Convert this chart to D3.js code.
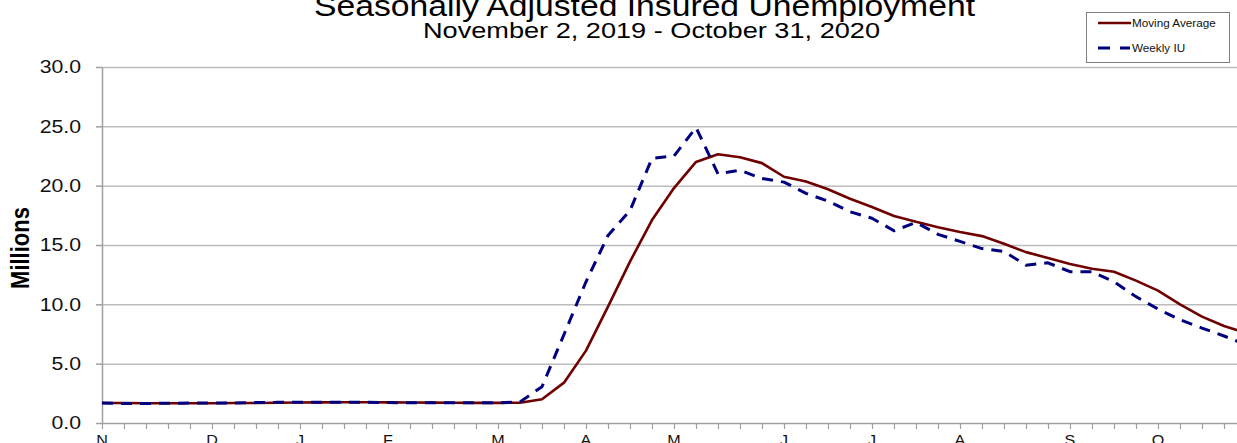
<!DOCTYPE html>
<html>
<head>
<meta charset="utf-8">
<script src="https://cdn.jsdelivr.net/npm/d3@7/dist/d3.min.js"></script>
<style>
  html, body { margin: 0; padding: 0; background: #fff; }
  svg { display: block; font-family: "Liberation Sans", Arial, sans-serif; }
</style>
</head>
<body>
<svg id="chart" width="1237" height="443"></svg>
<script>
// ---------------- data ----------------
const startDate = "2019-11-02";      // first week ending (Saturday)
const weekCount = 53;                // weeks through 2020-10-31
const monthLabels = ["N","D","J","F","M","A","M","J","J","A","S","O"];
const yTicks = [0, 5, 10, 15, 20, 25, 30];

// Weekly insured unemployment (millions)
const weeklyIU = [1.68,1.64,1.64,1.67,1.68,1.68,1.68,1.72,1.74,1.75,1.75,1.74,1.74,1.72,1.70,1.70,1.70,1.70,1.70,1.78,
  3.06,7.46,11.9,15.8,17.9,22.3,22.5,24.9,21.0,21.3,20.6,20.3,19.35,18.7,17.8,17.25,16.2,16.9,15.9,15.3,14.7,14.45,
  13.3,13.5,12.75,12.75,11.9,10.65,9.6,8.7,8.0,7.33,6.6];
// 4-week moving average (millions)
const movingAvg = [1.68,1.68,1.67,1.66,1.66,1.67,1.68,1.69,1.71,1.73,1.74,1.75,1.75,1.74,1.73,1.72,1.71,1.70,1.70,1.71,
  2.0,3.4,6.1,9.8,13.6,17.1,19.8,22.0,22.65,22.4,21.9,20.75,20.35,19.7,18.9,18.2,17.45,16.95,16.5,16.1,15.75,15.1,
  14.4,13.9,13.4,13.0,12.75,12.0,11.15,10.0,8.96,8.17,7.6];

const titleText = "Seasonally Adjusted Insured Unemployment";
const subtitleText = "November 2, 2019 - October 31, 2020";
const yAxisTitle = "Millions";
const seriesNames = ["Moving Average", "Weekly IU"];

// ---------------- build ----------------
(function () {
const parse = d3.utcParse("%Y-%m-%d");
const t0 = parse(startDate);
const dates = d3.range(weekCount).map(i => d3.utcDay.offset(t0, 7 * i));

const svg = d3.select("#chart");
const pL = 102, pR = 1246, pT = 67, pB = 423;

const x = d3.scaleUtc().domain([dates[0], dates[dates.length - 1]]).range([pL, pR]);
const y = d3.scaleLinear().domain([0, 30]).range([pB, pT]);

function stretch(sel, f) {
  sel.each(function () {
    const len = this.getComputedTextLength();
    d3.select(this).attr("textLength", len * f).attr("lengthAdjust", "spacingAndGlyphs");
  });
}

// gridlines
const grid = svg.append("g").attr("transform", `translate(${pL},0)`)
  .call(d3.axisLeft(y).tickValues(yTicks.filter(v => v > 0)).tickSize(-(1237 - pL)).tickFormat(""));
grid.select(".domain").remove();
grid.selectAll("line").attr("stroke", "#bdbdbd").attr("stroke-width", 1.5);

// y axis
const yAxis = svg.append("g").attr("transform", `translate(${pL},0)`)
  .call(d3.axisLeft(y).tickValues(yTicks).tickFormat(d3.format(".1f")).tickSize(6).tickPadding(15).tickSizeOuter(0));
yAxis.select(".domain").attr("stroke", "#a0a0a0").attr("stroke-width", 1.5);
yAxis.selectAll(".tick line").attr("stroke", "#a0a0a0").attr("stroke-width", 1.5);
yAxis.selectAll(".tick text").attr("font-size", 18).attr("fill", "#111")
  .attr("font-family", "'Liberation Sans', Arial, sans-serif");
stretch(yAxis.selectAll(".tick text"), 1.18);

// x axis
const xAxis = svg.append("g").attr("transform", `translate(0,${pB})`)
  .call(d3.axisBottom(x).tickValues(dates).tickSize(6).tickSizeOuter(0).tickFormat(""));
xAxis.select(".domain").attr("stroke", "#a0a0a0").attr("stroke-width", 1.5);
xAxis.selectAll(".tick line").attr("stroke", "#a0a0a0").attr("stroke-width", 1.2);

// month labels at first week of each month
const firstOfMonth = [];
dates.forEach((d, i) => {
  if (i === 0 || d.getUTCMonth() !== dates[i - 1].getUTCMonth()) firstOfMonth.push(d);
});
const mLab = svg.append("g").selectAll("text").data(firstOfMonth).join("text")
  .attr("x", d => x(d)).attr("y", 445)
  .attr("text-anchor", "middle").attr("font-size", 14).attr("fill", "#111")
  .text((d, i) => monthLabels[i]);
stretch(mLab, 1.15);

// lines
const line = d3.line().x((d, i) => x(dates[i])).y(d => y(d));
svg.append("path").datum(movingAvg).attr("d", line)
  .attr("fill", "none").attr("stroke", "#700000").attr("stroke-width", 2.6).attr("stroke-linejoin", "round");
svg.append("path").datum(weeklyIU).attr("d", line)
  .attr("fill", "none").attr("stroke", "#00007f").attr("stroke-width", 3)
  .attr("stroke-dasharray", "11,8").attr("stroke-linejoin", "round");

// titles
svg.append("text").attr("x", 644.5).attr("y", 16).attr("text-anchor", "middle")
  .attr("font-size", 30).attr("fill", "#000").attr("textLength", 661).attr("lengthAdjust", "spacingAndGlyphs")
  .text(titleText);
svg.append("text").attr("x", 651.5).attr("y", 38).attr("text-anchor", "middle")
  .attr("font-size", 22).attr("fill", "#000").attr("textLength", 457).attr("lengthAdjust", "spacingAndGlyphs")
  .text(subtitleText);

// y axis title
svg.append("text").attr("transform", "translate(29,248) scale(1.2,1) rotate(-90)")
  .attr("text-anchor", "middle").attr("font-size", 22).attr("font-weight", "bold").attr("fill", "#000")
  .text(yAxisTitle);

// legend
const lg = svg.append("g");
lg.append("rect").attr("x", 1086.5).attr("y", 12.5).attr("width", 143).attr("height", 50)
  .attr("fill", "#fff").attr("stroke", "#808080").attr("stroke-width", 1);
lg.append("line").attr("x1", 1098).attr("x2", 1131).attr("y1", 23).attr("y2", 23)
  .attr("stroke", "#700000").attr("stroke-width", 2.6);
lg.append("line").attr("x1", 1098).attr("x2", 1130).attr("y1", 48).attr("y2", 48)
  .attr("stroke", "#00007f").attr("stroke-width", 3).attr("stroke-dasharray", "12,10");
const lt = lg.selectAll("text.lt").data(seriesNames).join("text")
  .attr("class", "lt").attr("x", 1132).attr("y", (d, i) => i === 0 ? 26.5 : 51.5)
  .attr("font-size", 10).attr("fill", "#111").text(d => d);
stretch(lt, 1.17);
})();
</script>
</body>
</html>
